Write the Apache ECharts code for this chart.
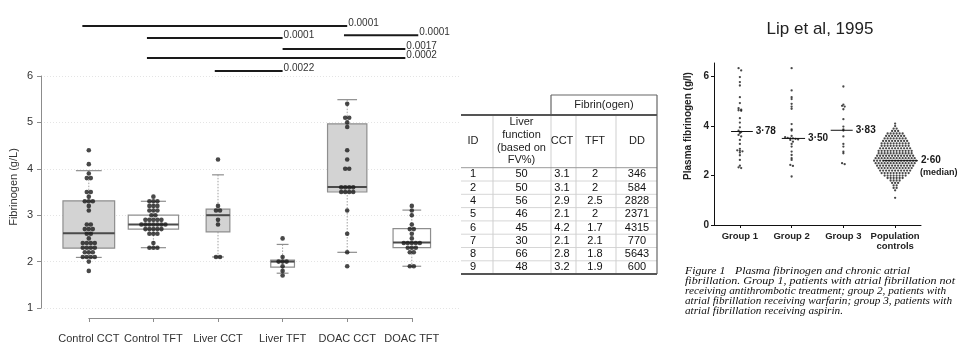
<!DOCTYPE html>
<html><head><meta charset="utf-8">
<script src="https://cdn.jsdelivr.net/npm/echarts@6/dist/echarts.min.js"></script>
<style>html,body{margin:0;padding:0;background:#fff;}#c{width:960px;height:356px;}</style>
</head><body><div id="c"></div>
<script>
// ================= DATA =================
// Left panel: fibrinogen by group
const categories = ['Control CCT', 'Control TFT', 'Liver CCT', 'Liver TFT', 'DOAC CCT', 'DOAC TFT'];
const yTicks = [1, 2, 3, 4, 5, 6];
const controlCCT = [4.4, 4.1, 3.9, 3.8, 3.8, 3.5, 3.5, 3.4, 3.3, 3.3, 3.3, 3.2, 3.1, 2.8, 2.8, 2.7, 2.7, 2.7, 2.6, 2.6, 2.5,
  2.4, 2.4, 2.4, 2.4, 2.3, 2.3, 2.3, 2.3, 2.2, 2.2, 2.2, 2.1, 2.1, 2.1, 2.1, 2.0, 1.8];
const controlTFT = [3.4, 3.3, 3.3, 3.3, 3.2, 3.2, 3.2, 3.1, 3.1, 3.1, 3.0, 3.0, 2.9, 2.9, 2.9, 2.9, 2.9,
  2.8, 2.8, 2.8, 2.8, 2.8, 2.8, 2.8, 2.7, 2.7, 2.7, 2.7, 2.7, 2.6, 2.6, 2.6, 2.4, 2.3, 2.3, 2.3];
const doacCCT = [6.2, 5.4, 5.1, 5.1, 5.0, 4.9, 4.4, 4.2, 4.0, 4.0, 3.6, 3.6, 3.6, 3.6, 3.5, 3.5, 3.5, 3.5, 3.1, 2.6, 2.2, 1.9];
const doacTFT = [3.2, 3.1, 3.0, 2.8, 2.7, 2.7, 2.6, 2.5, 2.4, 2.4, 2.4, 2.4, 2.4, 2.3, 2.3, 2.3, 2.2, 2.2, 1.9, 1.9];
// box statistics: [lower whisker, Q1, median, Q3, upper whisker]
const boxControlCCT = [2.09, 2.29, 2.61, 3.31, 3.96];
const boxControlTFT = [2.3, 2.7, 2.8, 3.0, 3.3];
const boxLiverCCT = [2.1, 2.64, 3.0, 3.13, 3.87];
const boxLiverTFT = [1.75, 1.88, 2.0, 2.03, 2.37];
const boxDoacCCT = [2.2, 3.5, 3.61, 4.97, 5.49];
const boxDoacTFT = [1.9, 2.3, 2.41, 2.71, 3.11];
// significance brackets (x in category units, level on the fibrinogen scale)
const sigFrom = [0.9, 1.9, 4.95, 4.0, 1.9, 2.95];
const sigTo = [5.0, 4.0, 6.1, 5.9, 5.9, 4.0];
const sigLevel = [7.08, 6.82, 6.88, 6.58, 6.39, 6.11];
const sigP = ['0.0001', '0.0001', '0.0001', '0.0017', '0.0002', '0.0022'];

// Table (liver patients)
const tableID = [1, 2, 4, 5, 6, 7, 8, 9];
const tableLiver = [50, 50, 56, 46, 45, 30, 66, 48];
const tableCCT = [3.1, 3.1, 2.9, 2.1, 4.2, 2.1, 2.8, 3.2];
const tableTFT = [2, 2, 2.5, 2, 1.7, 2.1, 1.8, 1.9];
const tableDD = [346, 584, 2828, 2371, 4315, 770, 5643, 600];

// Right panel: Lip et al, 1995
const lipTitle = 'Lip et al, 1995';
const lipGroups = ['Group 1', 'Group 2', 'Group 3', 'Population\ncontrols'];
const lipTicks = [0, 2, 4, 6];
const lipMedians = [3.78, 3.50, 3.83, 2.60];
const lipGroup1 = [6.34, 6.25, 5.98, 5.78, 5.64, 5.17, 4.93, 4.72, 4.66, 4.64, 4.62, 4.32, 4.14, 3.95, 3.81, 3.76, 3.72,
  3.64, 3.58, 3.44, 3.28, 3.08, 3.02, 3.0, 2.98, 2.93, 2.82, 2.63, 2.4, 2.33, 2.3];
const lipGroup2 = [6.34, 5.44, 5.17, 5.09, 4.9, 4.79, 4.7, 4.08, 3.87, 3.82, 3.6, 3.55, 3.52, 3.5, 3.5, 3.48, 3.46, 3.44,
  3.37, 3.28, 3.17, 2.97, 2.83, 2.7, 2.63, 2.43, 2.39, 1.96];
const lipGroup3 = [5.6, 4.87, 4.82, 4.79, 4.68, 4.28, 3.98, 3.87, 3.82, 3.58, 3.28, 3.17, 2.97, 2.9, 2.5, 2.46];
const popValues = [4.1, 4.0, 3.9, 3.8, 3.7, 3.6, 3.5, 3.4, 3.3, 3.2, 3.1, 3.0, 2.9, 2.8, 2.7, 2.6, 2.5, 2.4, 2.3, 2.2, 2.1,
  2.0, 1.9, 1.8, 1.7, 1.6, 1.5, 1.4, 1.1];
const popCounts = [1, 1, 2, 3, 6, 7, 8, 9, 10, 10, 11, 12, 12, 13, 14, 15, 14, 13, 12, 11, 10, 8, 6, 4, 3, 2, 2, 1, 1];
const captionHead = 'Figure 1';
const captionLines = [
  'Plasma fibrinogen and chronic atrial',
  'fibrillation. Group 1, patients with atrial fibrillation not',
  'receiving antithrombotic treatment; group 2, patients with',
  'atrial fibrillation receiving warfarin; group 3, patients with',
  'atrial fibrillation receiving aspirin.'
];

// ================= BUILD =================
const FONT = '"Liberation Sans", Arial, sans-serif';
const SERIF = '"Liberation Serif", "Times New Roman", serif';
const groupValues = [controlCCT, controlTFT, tableCCT, tableTFT, doacCCT, doacTFT];
const boxStats = [boxControlCCT, boxControlTFT, boxLiverCCT, boxLiverTFT, boxDoacCCT, boxDoacTFT];
const boxFill = ['#d3d3d3', '#ffffff', '#d3d3d3', '#ffffff', '#d3d3d3', '#ffffff'];

// simple beeswarm: equal values (binned) are spread side by side around the group centre
function swarm(values, center, step, bin) {
  const bins = new Map();
  values.forEach(v => {
    const k = Math.round(v / bin);
    if (!bins.has(k)) bins.set(k, []);
    bins.get(k).push(v);
  });
  const out = [];
  bins.forEach(arr => {
    const n = arr.length;
    arr.forEach((v, j) => out.push([center + (j - (n - 1) / 2) * step, v]));
  });
  return out;
}

const LEFT_UNIT = 64.6; // px per category on the left panel
const nMax = Math.max(...groupValues.map(g => g.length));
const boxData = boxStats.map((s, i) => [i + 1, s[0], s[1], s[2], s[3], s[4],
  0.8 * Math.sqrt(groupValues[i].length / nMax)]);
let leftDots = [];
groupValues.forEach((g, i) => { leftDots = leftDots.concat(swarm(g, i + 1, 4 / LEFT_UNIT, 0.1)); });

const RIGHT_UNIT = 51.75;
const popExpanded = [];
popValues.forEach((v, i) => { for (let k = 0; k < popCounts[i]; k++) popExpanded.push(v); });
let rightDots = [];
[lipGroup1, lipGroup2, lipGroup3].forEach((g, i) => {
  rightDots = rightDots.concat(swarm(g, i + 1, 2.6 / RIGHT_UNIT, 0.1));
});
rightDots = rightDots.concat(swarm(popExpanded, 4, 3 / RIGHT_UNIT, 0.1));
const medExt = [[-0.17, 0.25], [-0.19, 0.26], [-0.245, 0.18], [-0.235, 0.44]];
const medNote = ['', '', '', '(median)'];

// ---------- graphic (titles, table, caption) ----------
const gfx = [];
function gLine(x1, y1, x2, y2, stroke, w) {
  gfx.push({ type: 'line', silent: true, shape: { x1, y1, x2, y2 }, style: { stroke, lineWidth: w } });
}
function gText(x, y, text, style, extra) {
  gfx.push(Object.assign({
    type: 'text', silent: true, x, y,
    style: Object.assign({ text, align: 'center', verticalAlign: 'middle', fill: '#222', fontFamily: FONT, fontSize: 11 }, style || {})
  }, extra || {}));
}
// axis names and title
gText(14, 187, 'Fibrinogen (g/L)', { fill: '#333', fontSize: 11 }, { rotation: Math.PI / 2 });
gText(688, 126, 'Plasma fibrinogen (g/l)', { fill: '#222', fontSize: 10, fontWeight: 'bold' }, { rotation: Math.PI / 2 });
gText(820, 29, lipTitle, { fill: '#222', fontSize: 17 });

// table
const TB = { cols: [461, 493, 551, 576, 616, 657], tx: [473, 521.5, 562, 595, 637], top: 95, h1: 115, h2: 167.7, rowH: 13.3 };
const tBottom = TB.h2 + tableID.length * TB.rowH;
for (let i = 1; i < tableID.length; i++) gLine(TB.cols[0], TB.h2 + i * TB.rowH, TB.cols[5], TB.h2 + i * TB.rowH, '#d6d6d6', 1);
[1, 2, 3, 4].forEach(c => gLine(TB.cols[c], TB.h1, TB.cols[c], tBottom, '#cfcfcf', 1));
gLine(TB.cols[0], TB.h2, TB.cols[5], TB.h2, '#9a9a9a', 1);
gLine(TB.cols[2], TB.top, TB.cols[5], TB.top, '#666', 1.2);
gLine(TB.cols[2], TB.top, TB.cols[2], TB.h1, '#666', 1.2);
gLine(TB.cols[5], TB.top, TB.cols[5], tBottom, '#666', 1.2);
gLine(TB.cols[0], TB.h1, TB.cols[5], TB.h1, '#555', 2);
gLine(TB.cols[0], tBottom, TB.cols[5], tBottom, '#555', 2);
gText((TB.cols[2] + TB.cols[5]) / 2, (TB.top + TB.h1) / 2, 'Fibrin(ogen)', {});
const hdrY = (TB.h1 + TB.h2) / 2;
gText(TB.tx[0], hdrY, 'ID', {});
gText(TB.tx[1], hdrY, 'Liver\nfunction\n(based on\nFV%)', { lineHeight: 12.6 });
gText(TB.tx[2], hdrY, 'CCT', {});
gText(TB.tx[3], hdrY, 'TFT', {});
gText(TB.tx[4], hdrY, 'DD', {});
tableID.forEach((id, i) => {
  const y = TB.h2 + (i + 0.5) * TB.rowH;
  [id, tableLiver[i], tableCCT[i], tableTFT[i], tableDD[i]].forEach((v, c) => gText(TB.tx[c], y, String(v), { fill: '#111' }));
});

// caption (scanned italic serif, each line fitted to its width in the scan)
const CAP_SIZE = 10.5;
const capLeft = [735, 685, 685, 685, 685];
const capRight = [910, 955, 946, 952, 843];
const ctx = document.createElement('canvas').getContext('2d');
ctx.font = 'italic ' + CAP_SIZE + 'px ' + SERIF;
const capY0 = 271, capLH = 10;
const capStyle = { align: 'left', fontStyle: 'italic', fontFamily: SERIF, fontSize: CAP_SIZE, fill: '#0d0d0d' };
captionLines.forEach((line, i) => {
  const sc = (capRight[i] - capLeft[i]) / ctx.measureText(line).width;
  gText(capLeft[i], capY0 + i * capLH, line, capStyle, { scaleX: sc });
  if (i === 0) gText(685, capY0, captionHead, capStyle, { scaleX: sc });
});

// ---------- render functions ----------
function renderBox(params, api) {
  const x = api.value(0), lo = api.value(1), q1 = api.value(2), med = api.value(3), q3 = api.value(4), hi = api.value(5), w = api.value(6);
  const tl = api.coord([x - w / 2, q3]), br = api.coord([x + w / 2, q1]);
  const cLo = api.coord([x, lo]), cHi = api.coord([x, hi]);
  const capL = api.coord([x - w / 4, lo])[0], capR = api.coord([x + w / 4, lo])[0];
  const mL = api.coord([x - w / 2, med]), mR = api.coord([x + w / 2, med]);
  const grey = '#8e8e8e';
  return {
    type: 'group', children: [
      { type: 'line', shape: { x1: cHi[0], y1: cHi[1], x2: cHi[0], y2: tl[1] }, style: { stroke: '#a0a0a0', lineWidth: 1, lineDash: [1.5, 1.5] } },
      { type: 'line', shape: { x1: cLo[0], y1: br[1], x2: cLo[0], y2: cLo[1] }, style: { stroke: '#a0a0a0', lineWidth: 1, lineDash: [1.5, 1.5] } },
      { type: 'line', shape: { x1: capL, y1: cHi[1], x2: capR, y2: cHi[1] }, style: { stroke: grey, lineWidth: 1.2 } },
      { type: 'line', shape: { x1: capL, y1: cLo[1], x2: capR, y2: cLo[1] }, style: { stroke: grey, lineWidth: 1.2 } },
      { type: 'rect', shape: { x: tl[0], y: tl[1], width: br[0] - tl[0], height: br[1] - tl[1] },
        style: { fill: boxFill[params.dataIndex], stroke: grey, lineWidth: 1.2 } },
      { type: 'line', shape: { x1: mL[0], y1: mL[1], x2: mR[0], y2: mR[1] }, style: { stroke: '#4a4a4a', lineWidth: 2 } }
    ]
  };
}
function renderSig(params, api) {
  const p1 = api.coord([api.value(0), api.value(2)]), p2 = api.coord([api.value(1), api.value(2)]);
  return {
    type: 'group', children: [
      { type: 'line', shape: { x1: p1[0], y1: p1[1], x2: p2[0], y2: p2[1] }, style: { stroke: '#1a1a1a', lineWidth: 2 } },
      { type: 'text', x: p2[0] + 1, y: p1[1] - 2.5,
        style: { text: sigP[params.dataIndex], fill: '#333', fontFamily: FONT, fontSize: 10, align: 'left', verticalAlign: 'middle' } }
    ]
  };
}
function renderMedian(params, api) {
  const i = params.dataIndex, x = api.value(0), m = api.value(1);
  const p1 = api.coord([x + medExt[i][0], m]), p2 = api.coord([x + medExt[i][1], m]);
  const children = [
    { type: 'line', shape: { x1: p1[0], y1: p1[1], x2: p2[0], y2: p2[1] }, style: { stroke: '#111', lineWidth: 1 } },
    { type: 'text', x: p2[0] + 3, y: p2[1],
      style: { text: lipMedians[i].toFixed(2).replace('.', '\u00b7'), fill: '#1a1a1a', fontFamily: FONT, fontSize: 10, fontWeight: 'bold', align: 'left', verticalAlign: 'middle' } }
  ];
  if (medNote[i]) children.push({ type: 'text', x: p2[0] + 2, y: p2[1] + 12,
    style: { text: medNote[i], fill: '#1a1a1a', fontFamily: FONT, fontSize: 9, fontWeight: 'bold', align: 'left', verticalAlign: 'middle' } });
  return { type: 'group', children };
}

const chart = echarts.init(document.getElementById('c'), null, { renderer: 'canvas', width: 960, height: 356 });
chart.setOption({
  animation: false,
  backgroundColor: '#ffffff',
  grid: [
    { left: 41, top: 76, width: 6.48 * LEFT_UNIT, height: 232, outerBoundsMode: 'none' },
    { left: 41 + 0.74 * LEFT_UNIT, top: 290, width: 5 * LEFT_UNIT, height: 28, outerBoundsMode: 'none' },
    { left: 714, top: 63, width: 4 * RIGHT_UNIT, height: 162, outerBoundsMode: 'none' }
  ],
  xAxis: [
    { gridIndex: 0, type: 'value', min: 0.26, max: 6.74, show: false },
    { gridIndex: 1, type: 'category', data: categories, boundaryGap: false, position: 'bottom',
      axisLine: { show: true, lineStyle: { color: '#8c8c8c', width: 1 } },
      axisTick: { show: true, length: 4, lineStyle: { color: '#8c8c8c' } },
      axisLabel: { interval: 0, margin: 15, fontSize: 11, color: '#333', fontFamily: FONT },
      splitLine: { show: false } },
    { gridIndex: 2, type: 'category', data: lipGroups, boundaryGap: true, position: 'bottom',
      axisLine: { show: true, lineStyle: { color: '#111', width: 1 } },
      axisTick: { show: true, alignWithLabel: true, length: 3, lineStyle: { color: '#111' } },
      axisLabel: { interval: 0, margin: 6, fontSize: 9.5, fontWeight: 'bold', color: '#222', lineHeight: 10, fontFamily: FONT },
      splitLine: { show: false } },
    { gridIndex: 2, type: 'value', min: 0.5, max: 4.5, show: false }
  ],
  yAxis: [
    { gridIndex: 0, type: 'value', min: 1, max: 6, interval: 1,
      axisLine: { show: true, lineStyle: { color: '#8c8c8c', width: 1 } },
      axisTick: { show: true, length: 4, customValues: yTicks, lineStyle: { color: '#8c8c8c' } },
      axisLabel: { margin: 8, fontSize: 11, color: '#333', fontFamily: FONT, customValues: yTicks },
      splitLine: { show: true, lineStyle: { color: '#e4e4e4', width: 1, type: [1, 2] } } },
    { gridIndex: 1, type: 'value', show: false },
    { gridIndex: 2, type: 'value', min: 0, max: 6.55,
      axisLine: { show: true, lineStyle: { color: '#111', width: 1 } },
      axisTick: { show: true, length: 3, customValues: lipTicks, lineStyle: { color: '#111' } },
      axisLabel: { customValues: lipTicks, margin: 5, fontSize: 10, fontWeight: 'bold', color: '#222', fontFamily: FONT },
      splitLine: { show: false } }
  ],
  series: [
    { type: 'custom', xAxisIndex: 0, yAxisIndex: 0, renderItem: renderBox, data: boxData, z: 2, silent: true,
      encode: { x: 0, y: [1, 2, 3, 4, 5] } },
    { type: 'scatter', xAxisIndex: 0, yAxisIndex: 0, data: leftDots, symbol: 'circle', symbolSize: 4.6,
      itemStyle: { color: '#1c1c1c' }, z: 3, silent: true },
    { type: 'custom', xAxisIndex: 0, yAxisIndex: 0, renderItem: renderSig, clip: false, silent: true, z: 4,
      data: sigFrom.map((f, i) => [f, sigTo[i], sigLevel[i]]), encode: { x: [0, 1], y: 2 } },
    { type: 'scatter', xAxisIndex: 3, yAxisIndex: 2, data: rightDots, symbol: 'circle', symbolSize: 2.3,
      itemStyle: { color: '#1a1a1a' }, z: 3, silent: true },
    { type: 'custom', xAxisIndex: 3, yAxisIndex: 2, renderItem: renderMedian, clip: false, silent: true, z: 4,
      data: lipMedians.map((m, i) => [i + 1, m]) }
  ],
  graphic: { elements: gfx }
});
</script>
</body></html>
